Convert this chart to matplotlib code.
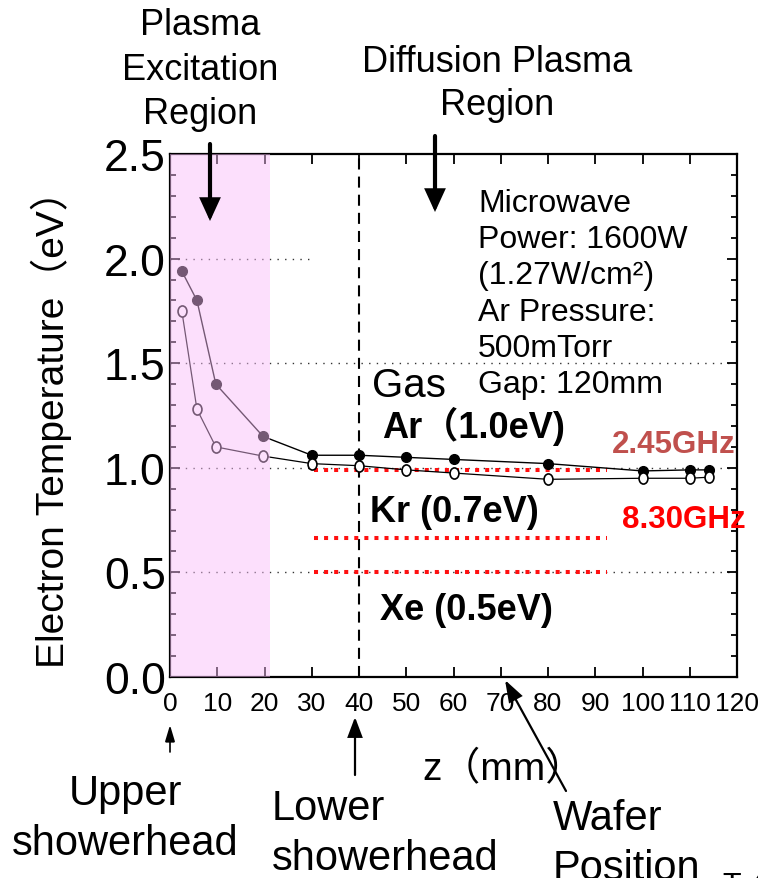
import matplotlib
matplotlib.use('Agg')
import matplotlib.pyplot as plt
from matplotlib import font_manager
from matplotlib.path import Path
from matplotlib.transforms import Affine2D
from matplotlib.patches import FancyArrowPatch
from matplotlib.ticker import MultipleLocator

# ---------------- data ----------------
z_pos = [2.5, 5.7, 9.7, 19.7, 30, 40, 50, 60, 80, 100, 110, 114]
te_filled = [1.94, 1.80, 1.40, 1.15, 1.06, 1.06, 1.05, 1.04, 1.02, 0.985, 0.99, 0.99]
te_open = [1.75, 1.28, 1.10, 1.056, 1.02, 1.01, 0.99, 0.975, 0.945, 0.95, 0.95, 0.955]

gas_labels = ['Ar（1.0eV)', 'Kr (0.7eV)', 'Xe (0.5eV)']
gas_levels = [0.99, 0.665, 0.5]
gas_z_range = [30.5, 92.5]
excitation_region = [0, 21.2]
lower_showerhead_z = 40
x_ticks = list(range(0, 121, 10))
y_ticks = [0.0, 0.5, 1.0, 1.5, 2.0, 2.5]
grid_levels = [0.5, 1.0, 1.5]
grid_short_level = 2.0
grid_short_end = 30
info_lines = ['Microwave', 'Power: 1600W', '(1.27W/cm²)', 'Ar Pressure:', '500mTorr', 'Gap: 120mm']

# ---------------- fonts ----------------
names = {f.name for f in font_manager.fontManager.ttflist}
NARROW = ['Liberation Sans Narrow', 'Liberation Sans', 'Noto Sans CJK JP'] if 'Liberation Sans Narrow' in names else ['Liberation Sans', 'Noto Sans CJK JP']
REG = ['Liberation Sans', 'Noto Sans CJK JP', 'DejaVu Sans']
plt.rcParams['font.family'] = REG

W, H = 758, 879
fig = plt.figure(figsize=(W / 100, H / 100), dpi=100)
ax = fig.add_axes([170 / W, 1 - 678 / H, 567 / W, 523 / H])


def P(x, y):
    return (x / W, 1 - y / H)


# ---------------- axes ----------------
ax.set_xlim(0, 120)
ax.set_ylim(0, 2.5)
ax.set_xticks(x_ticks)
ax.set_yticks(y_ticks)
ax.set_yticklabels([f'{v:.1f}' for v in y_ticks])
ax.yaxis.set_minor_locator(MultipleLocator(0.1))
ax.tick_params(axis='both', which='both', direction='in', top=True, right=True, width=1.3, color='black')
ax.tick_params(axis='both', which='major', length=7)
ax.tick_params(axis='y', which='minor', length=4)
ax.tick_params(axis='y', labelsize=32, pad=3)
ax.tick_params(axis='x', labelsize=19, pad=10)
for lab in ax.get_xticklabels():
    lab.set_family(NARROW)
for sp in ax.spines.values():
    sp.set_linewidth(1.6)

# grid lines (dotted)
ax.hlines(grid_levels, 0, 120, colors='#333333', linestyles=(0, (1, 4.5)), lw=1.0, zorder=1)
ax.hlines([grid_short_level], 0, grid_short_end, colors='#333333', linestyles=(0, (1, 4.5)), lw=1.0, zorder=1)

# lower showerhead dashed line
ax.axvline(lower_showerhead_z, color='black', lw=1.5, linestyle=(0, (5.3, 3.4)), zorder=2)

# gas reference lines
ax.hlines(gas_levels, gas_z_range[0], gas_z_range[1], colors='#ff1010', linestyles=(0, (1, 1.5)), lw=2.9, zorder=3)

# data
ax.plot(z_pos, te_filled, '-', color='black', lw=1.0, zorder=4)
ax.plot(z_pos, te_open, '-', color='black', lw=0.9, zorder=4)
ax.plot(z_pos, te_filled, 'o', ms=7, color='black', zorder=5)
ellipse = Path.unit_circle().transformed(Affine2D().scale(0.8, 1.0))
ax.plot(z_pos, te_open, linestyle='none', marker=ellipse, ms=8, mfc='white', mec='black', mew=1.2, zorder=5)

# pink overlay on excitation region (semi-transparent, on top)
ax.axvspan(excitation_region[0], excitation_region[1], ymin=0, ymax=1, color='#f9bdf9', alpha=0.47, lw=0, zorder=10)

# ---------------- texts ----------------
fig.text(*P(51, 420), 'Electron Temperature（eV）', rotation=90, ha='center', va='center', fontsize=28)

# top region labels
for s, y in zip(['Plasma', 'Excitation', 'Region'], [35, 80, 124]):
    fig.text(*P(200, y), s, ha='center', va='baseline', fontsize=26)
for s, y in zip(['Diffusion Plasma', 'Region'], [72, 115]):
    fig.text(*P(497, y), s, ha='center', va='baseline', fontsize=26)

# info box
for i, s in enumerate(info_lines):
    fig.text(*P(478, 212 + 36.2 * i), s, ha='left', va='baseline', fontsize=23)

fig.text(*P(372, 397), 'Gas', ha='left', va='baseline', fontsize=29)
gas_text_pos = [(382, 438), (370, 522), (380, 620)]
for lab, (x, y) in zip(gas_labels, gas_text_pos):
    fig.text(*P(x, y), lab, ha='left', va='baseline', fontsize=26, fontweight='bold')
fig.text(*P(612, 453), '2.45GHz', ha='left', va='baseline', fontsize=22.5, fontweight='bold', color='#c0504d')
fig.text(*P(622, 528), '8.30GHz', ha='left', va='baseline', fontsize=22.5, fontweight='bold', color='#ff0000')

# bottom labels
fig.text(*P(422, 780), 'z（mm）', ha='left', va='baseline', fontsize=28, family=NARROW)
fig.text(*P(125, 805), 'Upper', ha='center', va='baseline', fontsize=30, family=NARROW)
fig.text(*P(125, 855), 'showerhead', ha='center', va='baseline', fontsize=30, family=NARROW)
fig.text(*P(272, 820), 'Lower', ha='left', va='baseline', fontsize=30, family=NARROW)
fig.text(*P(272, 870), 'showerhead', ha='left', va='baseline', fontsize=30, family=NARROW)
fig.text(*P(553, 830), 'Wafer', ha='left', va='baseline', fontsize=30, family=NARROW)
fig.text(*P(553, 880), 'Position', ha='left', va='baseline', fontsize=30, family=NARROW)
fig.text(*P(722, 895), 'T-4', ha='left', va='baseline', fontsize=22, family=NARROW)


# ---------------- arrows ----------------
def arrow(p0, p1, lw, hl, hw):
    fig.add_artist(FancyArrowPatch(P(*p0), P(*p1), transform=fig.transFigure,
                                   arrowstyle=f'-|>,head_length={hl},head_width={hw}',
                                   mutation_scale=10, lw=lw, color='black',
                                   shrinkA=0, shrinkB=0, joinstyle='miter'))


arrow((210, 145), (210, 222), 3.0, 1.2, 0.55)
arrow((435, 137), (435, 213), 3.0, 1.2, 0.55)
arrow((170, 753), (170, 726), 1.2, 1.0, 0.3)
arrow((355, 776), (355, 718), 1.6, 1.2, 0.45)
arrow((566, 792), (505, 681), 1.6, 1.3, 0.45)

fig.savefig('out.png', dpi=100)
